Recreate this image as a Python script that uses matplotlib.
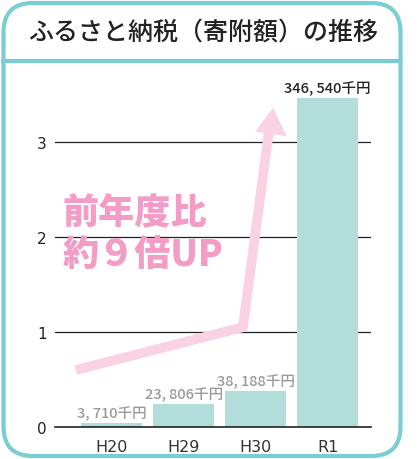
import matplotlib.pyplot as plt
from matplotlib.patches import FancyBboxPatch, Polygon
from matplotlib.lines import Line2D

plt.rcParams['font.family'] = ['Noto Sans CJK JP', 'DejaVu Sans']

years = ['H20', 'H29', 'H30', 'R1']
amounts = [3710, 23806, 38188, 346540]   # 千円
labels = ['3, 710千円', '23, 806千円', '38, 188千円', '346, 540千円']
yticks = [0, 1, 2, 3]

vals = [a / 100000 for a in amounts]   # 億円
xs = list(range(len(years)))

W, H = 419, 460
fig = plt.figure(figsize=(W / 100, H / 100), dpi=100)

teal = '#7ACDD0'
# rounded frame + header line
frame = FancyBboxPatch((3.5 / W, 3 / H), 397 / W, 453 / H,
                       boxstyle='round,pad=0,rounding_size=0.07',
                       transform=fig.transFigure, fill=False,
                       edgecolor=teal, linewidth=3, mutation_aspect=W / H)
fig.patches.append(frame)
fig.add_artist(Line2D([3 / W, 400 / W], [1 - 62 / H, 1 - 62 / H],
                      transform=fig.transFigure, color=teal, linewidth=3))
fig.text(203 / W, 1 - 33 / H, 'ふるさと納税（寄附額）の推移', ha='center', va='center',
         fontsize=18, color='#222222', fontweight='medium')

ax = fig.add_axes([55 / W, 32 / H, 316 / W, 342 / H])
ax.bar(xs, vals, width=0.85, color='#B1DEDB', zorder=2)
ax.set_xlim(-0.79, 3.6)
ax.set_ylim(0, 3.6)
for s in ['top', 'right', 'left']:
    ax.spines[s].set_visible(False)
ax.spines['bottom'].set_color('#222222')
ax.spines['bottom'].set_linewidth(1.2)
ax.set_yticks(yticks)
ax.set_yticklabels([str(t) for t in yticks], fontsize=11, color='#222222',
                   family='DejaVu Sans')
ax.tick_params(axis='y', length=0, pad=6)
ax.set_xticks(xs)
ax.set_xticklabels(years, fontsize=11.5, color='#333333', family='DejaVu Sans')
ax.tick_params(axis='x', length=0, pad=9)
for t in yticks[1:]:
    ax.axhline(t, color='#222222', linewidth=0.9, zorder=1)

for i, (x, v, lab) in enumerate(zip(xs, vals, labels)):
    col = '#222222' if i == len(xs) - 1 else '#999999'
    ax.text(x, v + 0.03, lab, ha='center', va='bottom',
            fontsize=10.5, color=col, fontweight='medium')

# pink arrow
pink = '#F9D2E3'
ax.plot([-0.5, 1.82, 2.18], [0.6, 1.05, 3.1], color=pink, linewidth=7,
        solid_capstyle='butt', solid_joinstyle='miter', zorder=3)
ax.add_patch(Polygon([[1.99, 3.11], [2.43, 3.06], [2.24, 3.36]], closed=True,
                     facecolor=pink, edgecolor='none', zorder=3))

ax.text(-0.68, 2.04, '前年度比\n約９倍UP', fontsize=26, fontweight='heavy',
        color='#F39CC5', ha='left', va='center', linespacing=1.2, zorder=4)

fig.savefig('out.png', dpi=100)
